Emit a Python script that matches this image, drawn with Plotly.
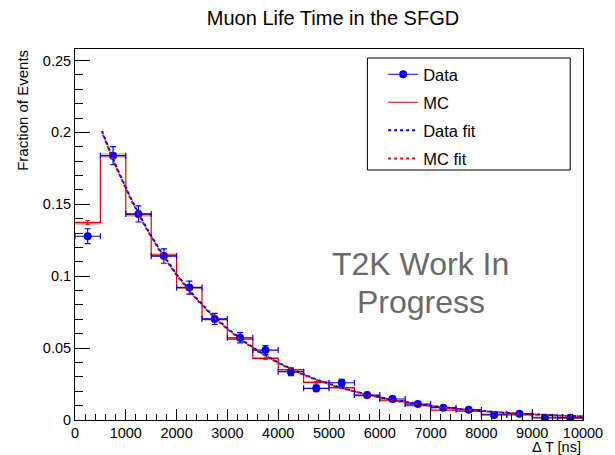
import numpy as np
import plotly.graph_objects as go

# Binning: 20 bins of 500 ns between 0 and 10000 ns
bin_edges = [0, 500, 1000, 1500, 2000, 2500, 3000, 3500, 4000, 4500, 5000,
             5500, 6000, 6500, 7000, 7500, 8000, 8500, 9000, 9500, 10000]
bin_centers = [250, 750, 1250, 1750, 2250, 2750, 3250, 3750, 4250, 4750,
               5250, 5750, 6250, 6750, 7250, 7750, 8250, 8750, 9250, 9750]
bin_half_width = 250

# Data: fraction of events per bin and statistical errors
data_frac = [0.1278, 0.1838, 0.1433, 0.1140, 0.0921, 0.0703, 0.0572, 0.0486,
             0.0336, 0.0220, 0.0259, 0.0174, 0.0146, 0.0111, 0.0086, 0.0072,
             0.0035, 0.0044, 0.0014, 0.0016]
data_err = [0.0052, 0.0063, 0.0056, 0.0050, 0.0045, 0.0039, 0.0035, 0.0032,
            0.0027, 0.0022, 0.0024, 0.0019, 0.0018, 0.0015, 0.0014, 0.0012,
            0.0009, 0.0010, 0.0006, 0.0006]

# Monte Carlo prediction
mc_frac = [0.1373, 0.1838, 0.1428, 0.1146, 0.0921, 0.0699, 0.0563, 0.0428,
           0.0350, 0.0262, 0.0225, 0.0170, 0.0134, 0.0099, 0.0069, 0.0062,
           0.0039, 0.0035, 0.0019, 0.0012]
mc_err = [0.0014, 0.0016, 0.0014, 0.0013, 0.0012, 0.0010, 0.0009, 0.0008,
          0.0007, 0.0006, 0.0006, 0.0005, 0.0004, 0.0004, 0.0003, 0.0003,
          0.0002, 0.0002, 0.0002, 0.0001]

# Exponential decay fits: N * exp(-t / tau)
fit_range = [530, 10000]
data_fit_norm, data_fit_tau = 0.2571, 2150.0
mc_fit_norm, mc_fit_tau = 0.2565, 2140.0

BLUE = "#0000e6"
RED = "#e60000"
FONT = "Liberation Sans, Arial, Helvetica, sans-serif"

fit_t = np.linspace(fit_range[0], fit_range[1], 400)
data_fit = data_fit_norm * np.exp(-fit_t / data_fit_tau)
mc_fit = mc_fit_norm * np.exp(-fit_t / mc_fit_tau)

fig = go.Figure()

# MC uncertainty band
fig.add_trace(go.Bar(
    x=bin_centers, y=[2 * e for e in mc_err],
    base=[v - e for v, e in zip(mc_frac, mc_err)],
    width=500, marker=dict(color="rgba(240,60,60,0.35)", line=dict(width=0)),
    showlegend=False, hoverinfo="skip"))

# MC histogram outline
fig.add_trace(go.Scatter(
    x=bin_edges, y=mc_frac + [mc_frac[-1]], mode="lines",
    line=dict(color=RED, width=1.2, shape="hv"), showlegend=False))

# MC error bars
fig.add_trace(go.Scatter(
    x=bin_centers, y=mc_frac, mode="markers",
    marker=dict(size=1, color=RED),
    error_y=dict(type="data", array=mc_err, color=RED, thickness=1, width=2),
    showlegend=False))

# Data points
fig.add_trace(go.Scatter(
    x=bin_centers, y=data_frac, mode="markers",
    marker=dict(size=8, color=BLUE, symbol="circle"),
    error_y=dict(type="data", array=data_err, color=BLUE, thickness=1.2, width=3),
    error_x=dict(type="constant", value=bin_half_width, color=BLUE,
                 thickness=1.2, width=3),
    showlegend=False))

# Fits
fig.add_trace(go.Scatter(
    x=fit_t, y=mc_fit, mode="lines",
    line=dict(color=RED, width=2, dash="0px,3px,3px,0px"), showlegend=False))
fig.add_trace(go.Scatter(
    x=fit_t, y=data_fit, mode="lines",
    line=dict(color=BLUE, width=2, dash="3px,3px"), showlegend=False))

# Legend entries
fig.add_trace(go.Scatter(
    x=[None], y=[None], mode="lines+markers", name="Data", legendgroup="a",
    line=dict(color=BLUE, width=1.2), marker=dict(size=8, color=BLUE)))
fig.add_trace(go.Scatter(
    x=[None], y=[None], mode="lines", name="MC", legendgroup="b",
    line=dict(color=RED, width=1.2)))
fig.add_trace(go.Scatter(
    x=[None], y=[None], mode="lines", name="Data fit", legendgroup="c",
    line=dict(color=BLUE, width=2, dash="3px,3px")))
fig.add_trace(go.Scatter(
    x=[None], y=[None], mode="lines", name="MC fit", legendgroup="d",
    line=dict(color=RED, width=2, dash="3px,3px")))

W, H = 615, 455
ML, MR, MT, MB = 75, 24, 49, 35
pw, ph = W - ML - MR, H - MT - MB


def px_x(p):
    return (p - ML) / pw


def px_y(p):
    return (H - MB - p) / ph


fig.update_layout(
    width=W, height=H,
    margin=dict(l=ML, r=MR, t=MT, b=MB, pad=0),
    paper_bgcolor="white", plot_bgcolor="white",
    font=dict(family=FONT, size=14.5, color="black"),
    title=dict(text="Muon Life Time in the SFGD", x=333 / W, xref="container",
               xanchor="center", y=1 - 18 / H, yanchor="middle",
               font=dict(size=20)),
    bargap=0,
    showlegend=True,
    legend=dict(x=px_x(388), y=px_y(57), xanchor="left", yanchor="top",
                bgcolor="rgba(0,0,0,0)", borderwidth=0,
                traceorder="grouped", tracegroupgap=3.6,
                font=dict(size=16.5)),
    xaxis=dict(range=[0, 10000], showgrid=False, zeroline=False,
               showline=True, linecolor="black", linewidth=1, mirror=True,
               ticks="inside", ticklen=11, tickcolor="black", dtick=1000,
               tick0=0, tickformat="d",
               minor=dict(ticks="inside", ticklen=6, dtick=200, tickcolor="black")),
    yaxis=dict(range=[0, 0.258], showgrid=False, zeroline=False,
               showline=True, linecolor="black", linewidth=1, mirror=True,
               ticks="inside", ticklen=15, tickcolor="black", dtick=0.05,
               tick0=0,
               minor=dict(ticks="inside", ticklen=8, dtick=0.01, tickcolor="black")),
    shapes=[dict(type="rect", xref="paper", yref="paper",
                 x0=px_x(372), x1=px_x(578), y0=px_y(170), y1=px_y(58),
                 line=dict(color="black", width=1), fillcolor="rgba(0,0,0,0)")],
    annotations=[
        dict(text="Fraction of Events", xref="paper", yref="paper",
             x=px_x(21), y=px_y(110), textangle=-90, showarrow=False,
             xanchor="center", yanchor="middle", font=dict(size=15)),
        dict(text="Δ T [ns]", xref="paper", yref="paper",
             x=px_x(591), y=px_y(447), showarrow=False,
             xanchor="right", yanchor="middle", font=dict(size=14.5)),
        dict(text="T2K Work In", xref="paper", yref="paper",
             x=px_x(426), y=px_y(264), showarrow=False,
             xanchor="center", yanchor="middle",
             font=dict(size=32, color="#6a6a6a")),
        dict(text="Progress", xref="paper", yref="paper",
             x=px_x(426), y=px_y(302), showarrow=False,
             xanchor="center", yanchor="middle",
             font=dict(size=32, color="#6a6a6a")),
    ],
)

fig.write_html("out.html")
